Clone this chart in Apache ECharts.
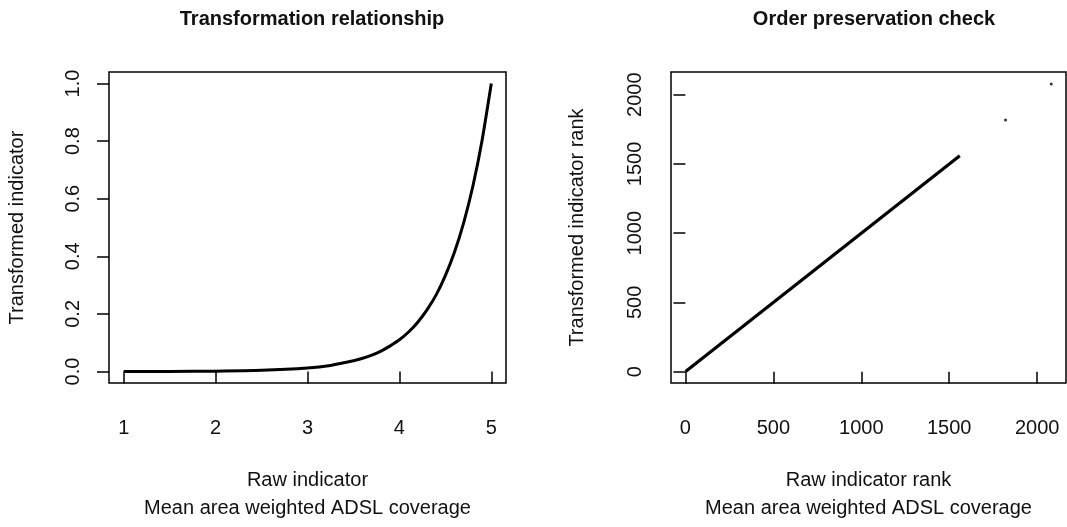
<!DOCTYPE html>
<html>
<head>
<meta charset="utf-8">
<script src="https://cdn.jsdelivr.net/npm/echarts@6/dist/echarts.min.js"></script>
<style>
  html, body { margin: 0; padding: 0; background: #fff; }
  #main { width: 1067px; height: 527px; }
</style>
</head>
<body>
<div id="main"></div>
<script>
// left panel: raw indicator vs transformed indicator
const rawX = [1, 1.5, 2, 2.5, 3, 3.25, 3.5, 3.6, 3.7, 3.8, 3.9, 4, 4.1, 4.2, 4.3, 4.4, 4.5, 4.6, 4.7, 4.8, 4.9, 5];
const transformed = [0, 0.0003, 0.0012, 0.004, 0.012, 0.021, 0.037, 0.046, 0.057, 0.071, 0.089, 0.11, 0.137, 0.171, 0.214, 0.266, 0.333, 0.415, 0.517, 0.644, 0.803, 1.0];

// right panel: rank check
const rankLineX = [1, 1560];
const rankLineY = [1, 1560];
const rankDotX = [1820, 2080];
const rankDotY = [1818, 2078];

const leftXTicks = [1, 2, 3, 4, 5];
const leftYTicks = [0, 0.2, 0.4, 0.6, 0.8, 1.0];
const rankTicks = [0, 500, 1000, 1500, 2000];

const FONT = 'Liberation Sans';
const fs = 20;

function pairs(xs, ys) {
  return xs.map((x, i) => [x, ys[i]]);
}

function xAxisOpt(idx, min, max, ticks, name) {
  return {
    type: 'value',
    gridIndex: idx,
    min: min,
    max: max,
    splitLine: { show: false },
    axisLine: { show: false },
    axisTick: {
      show: true,
      customValues: ticks,
      length: 12,
      lineStyle: { color: '#000', width: 1.5 }
    },
    axisLabel: {
      customValues: ticks,
      margin: 35,
      color: '#111',
      fontFamily: FONT,
      fontSize: fs,
      formatter: v => String(v)
    },
    name: name,
    nameLocation: 'middle',
    nameGap: 83,
    nameTextStyle: {
      color: '#111',
      fontFamily: FONT,
      fontSize: fs,
      lineHeight: 28
    }
  };
}

function yAxisOpt(idx, min, max, ticks, name, fmt, gap) {
  return {
    type: 'value',
    gridIndex: idx,
    min: min,
    max: max,
    splitLine: { show: false },
    axisLine: { show: false },
    axisTick: {
      show: true,
      customValues: ticks,
      length: 12,
      lineStyle: { color: '#000', width: 1.5 }
    },
    axisLabel: {
      customValues: ticks,
      rotate: 90,
      margin: 26,
      color: '#111',
      fontFamily: FONT,
      fontSize: fs,
      formatter: fmt
    },
    name: name,
    nameLocation: 'middle',
    nameRotate: 90,
    nameGap: gap,
    nameTextStyle: {
      color: '#111',
      fontFamily: FONT,
      fontSize: fs
    }
  };
}

const chart = echarts.init(document.getElementById('main'), null, { renderer: 'canvas' });

const option = {
  animation: false,
  backgroundColor: '#fff',
  title: [
    {
      text: 'Transformation relationship',
      left: 307, top: 4, textAlign: 'center',
      textStyle: { fontFamily: FONT, fontSize: fs, fontWeight: 'bold', color: '#111' }
    },
    {
      text: 'Order preservation check',
      left: 869, top: 4, textAlign: 'center',
      textStyle: { fontFamily: FONT, fontSize: fs, fontWeight: 'bold', color: '#111' }
    }
  ],
  grid: [
    { left: 109, top: 72, width: 397, height: 316, show: true, borderColor: '#000', borderWidth: 1.5, backgroundColor: 'transparent' },
    { left: 671, top: 72, width: 395, height: 316, show: true, borderColor: '#000', borderWidth: 1.5, backgroundColor: 'transparent' }
  ],
  xAxis: [
    xAxisOpt(0, 0.84, 5.16, leftXTicks, 'Raw indicator\nMean area weighted ADSL coverage'),
    xAxisOpt(1, -82, 2164, rankTicks, 'Raw indicator rank\nMean area weighted ADSL coverage')
  ],
  yAxis: [
    yAxisOpt(0, -0.04, 1.04, leftYTicks, 'Transformed indicator', v => v.toFixed(1), 82),
    yAxisOpt(1, -82, 2164, rankTicks, 'Transformed indicator rank', v => String(v), 84)
  ],
  series: [
    {
      type: 'line',
      xAxisIndex: 0, yAxisIndex: 0,
      data: pairs(rawX, transformed),
      smooth: 0.2,
      showSymbol: false,
      lineStyle: { color: '#000', width: 3 }
    },
    {
      type: 'line',
      xAxisIndex: 1, yAxisIndex: 1,
      data: pairs(rankLineX, rankLineY),
      showSymbol: false,
      lineStyle: { color: '#000', width: 3.2 }
    },
    {
      type: 'scatter',
      xAxisIndex: 1, yAxisIndex: 1,
      data: pairs(rankDotX, rankDotY),
      symbol: 'circle',
      symbolSize: 3,
      itemStyle: { color: '#000' }
    }
  ]
};

chart.setOption(option);
</script>
</body>
</html>
